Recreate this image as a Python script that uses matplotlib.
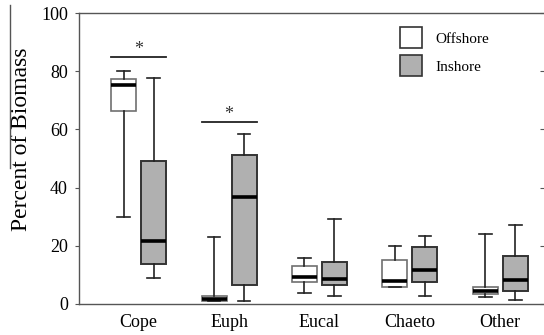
# -*- coding: utf-8 -*-
"""
Box plots of percent biomass by prey group, offshore vs inshore
"""

import numpy as np
import matplotlib
matplotlib.use('Agg')
import matplotlib.pyplot as plt
from matplotlib.patches import Patch
from matplotlib.lines import Line2D

plt.rcParams['font.family'] = ['Liberation Serif', 'DejaVu Serif']

#%% data: box summary values for each prey group

groups = ['Cope', 'Euph', 'Eucal', 'Chaeto', 'Other']

# offshore: whisker low, q1, median, q3, whisker high
off_lo = [29.8, 1.0, 3.7, 5.8, 2.5]
off_q1 = [66.3, 1.2, 7.5, 5.9, 3.4]
off_med = [75.3, 1.6, 9.4, 7.8, 4.6]
off_q3 = [77.3, 2.8, 13.2, 15.2, 5.7]
off_hi = [80.2, 23.0, 15.7, 19.9, 24.1]

# inshore
in_lo = [8.9, 1.0, 2.7, 2.7, 1.5]
in_q1 = [13.7, 6.5, 6.4, 7.7, 4.6]
in_med = [21.6, 36.8, 8.6, 11.6, 8.4]
in_q3 = [49.1, 51.1, 14.5, 19.5, 16.5]
in_hi = [77.8, 58.5, 29.1, 23.4, 27.3]

# significant differences (group index, bar height)
sig_idx = [0, 1]
sig_y = [84.8, 62.4]

#%% figure

fig = plt.figure(figsize=(5.44, 3.35), dpi=100)
ax = fig.add_axes([79/544, 1-304/335, 466.5/544, 291/335])

pos = np.arange(1, len(groups)+1)
off = 0.166
width = 0.276


def stats(lo, q1, med, q3, hi):
    return [dict(whislo=a, q1=b, med=c, q3=d, whishi=e, fliers=[])
            for a, b, c, d, e in zip(lo, q1, med, q3, hi)]


ax.bxp(stats(off_lo, off_q1, off_med, off_q3, off_hi), positions=pos-off,
       widths=width, patch_artist=True, showfliers=False,
       boxprops=dict(facecolor='white', edgecolor='#707070', linewidth=1.2),
       medianprops=dict(color='black', linewidth=2.6),
       whiskerprops=dict(color='#222222', linewidth=1.2),
       capprops=dict(color='#222222', linewidth=1.2),
       capwidths=width*0.5)

ax.bxp(stats(in_lo, in_q1, in_med, in_q3, in_hi), positions=pos+off,
       widths=width, patch_artist=True, showfliers=False,
       boxprops=dict(facecolor='#b0b0b0', edgecolor='#333333', linewidth=1.4),
       medianprops=dict(color='black', linewidth=2.6),
       whiskerprops=dict(color='#222222', linewidth=1.2),
       capprops=dict(color='#222222', linewidth=1.2),
       capwidths=width*0.5)

# significance bars with asterisks
for i, y in zip(sig_idx, sig_y):
    x0 = pos[i] - off - width/2
    x1 = pos[i] + off + width/2
    ax.plot([x0, x1], [y, y], color='#222222', lw=1.3)
    ax.text(pos[i], y - 0.3, '*', ha='center', va='bottom', fontsize=13,
            color='#333333')

ax.set_xlim(0.34, 5.5)
ax.set_ylim(0, 100)
ax.set_xticks(pos)
ax.set_xticklabels(groups, fontsize=13)
ax.set_yticks(np.arange(0, 101, 20))
ax.tick_params(axis='y', labelsize=13, length=3, direction='out',
               color='#555555', pad=5)
ax.tick_params(axis='y', which='both', right=True, labelright=False)
ax.tick_params(axis='x', length=0, pad=7)
for t in ax.yaxis.get_major_ticks():
    t.tick2line.set_marker(matplotlib.lines.TICKLEFT)
    t.tick2line.set_markersize(4)
for s in ax.spines.values():
    s.set_color('#555555')
    s.set_linewidth(1.0)

ax.set_ylabel('Percent of Biomass', fontsize=17)
ax.yaxis.set_label_coords(-47/466.5, (304-139.5)/291)

handles = [Patch(facecolor='white', edgecolor='#333333', linewidth=1.2),
           Patch(facecolor='#b0b0b0', edgecolor='#333333', linewidth=1.2)]
ax.legend(handles, ['Offshore', 'Inshore'], loc='upper left',
          bbox_to_anchor=(400/544, 1-27/335), bbox_transform=fig.transFigure,
          frameon=False, fontsize=11, handlelength=1.45, handleheight=1.75,
          handletextpad=0.85, labelspacing=0.45, borderpad=0, borderaxespad=0)

# stray rule near the axis label
fig.add_artist(Line2D([9.5/544, 9.5/544], [1-5/335, 1-168/335],
                      color='#555555', lw=1.0))

plt.savefig('out.png', dpi=100)
